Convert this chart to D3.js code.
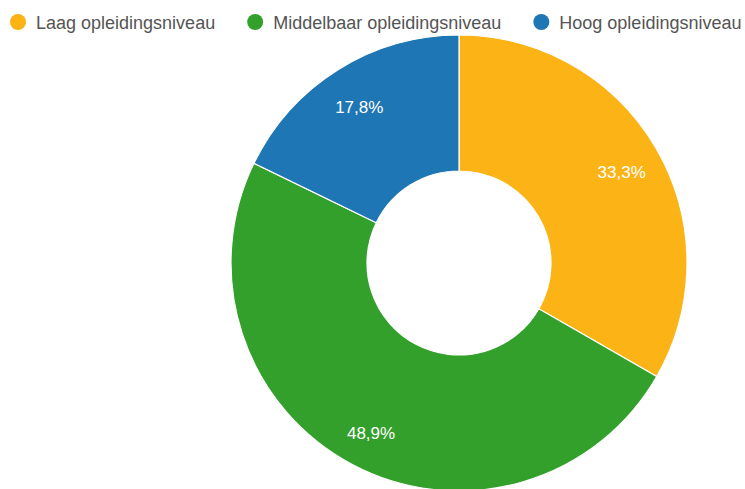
<!DOCTYPE html>
<html>
<head>
<meta charset="utf-8">
<script src="https://cdn.jsdelivr.net/npm/d3@7"></script>
<style>
  html, body { margin: 0; padding: 0; background: #ffffff; }
  svg { display: block; }
</style>
</head>
<body>
<svg id="chart" width="745" height="489"></svg>
<script>
const categories = ["Laag opleidingsniveau", "Middelbaar opleidingsniveau", "Hoog opleidingsniveau"];
const values = [33.3, 48.9, 17.8];
const labels = ["33,3%", "48,9%", "17,8%"];
const colors = ["#fcb316", "#33a02c", "#1f76b4"];

const svg = d3.select("#chart");
const cx = 459, cy = 263, outerR = 228, innerR = 92, labelR = 188;

const data = categories.map((c, i) => ({ name: c, value: values[i], label: labels[i], color: colors[i] }));

const pie = d3.pie().sort(null).value(d => d.value);
const arcs = pie(data);
const arc = d3.arc().innerRadius(innerR).outerRadius(outerR);
const labelArc = d3.arc().innerRadius(labelR).outerRadius(labelR);

const g = svg.append("g").attr("transform", `translate(${cx},${cy})`);
g.selectAll("path.slice").data(arcs).enter().append("path")
  .attr("class", "slice")
  .attr("d", arc)
  .attr("fill", d => d.data.color)
  .attr("stroke", "#ffffff")
  .attr("stroke-width", 1.2);

g.selectAll("text.lbl").data(arcs).enter().append("text")
  .attr("class", "lbl")
  .attr("transform", d => { const c = labelArc.centroid(d); return `translate(${c[0]},${c[1] + 4})`; })
  .attr("text-anchor", "middle")
  .attr("dominant-baseline", "central")
  .attr("font-family", "Liberation Sans, Arial, sans-serif")
  .attr("font-size", 17)
  .attr("fill", "#ffffff")
  .text(d => d.data.label);

// Legend
const legend = svg.append("g").attr("class", "legend");
const legendY = 22, dotR = 8;
let x = 18;
data.forEach((d, i) => {
  const item = legend.append("g");
  item.append("circle").attr("cx", x).attr("cy", legendY).attr("r", dotR).attr("fill", d.color);
  const t = item.append("text")
    .attr("x", x + 18)
    .attr("y", legendY + 1)
    .attr("dominant-baseline", "central")
    .attr("font-family", "Liberation Sans, Arial, sans-serif")
    .attr("font-size", 18)
    .attr("fill", "#555555")
    .text(d.name);
  const w = t.node().getComputedTextLength();
  x = x + 18 + w + 40;
});
</script>
</body>
</html>
